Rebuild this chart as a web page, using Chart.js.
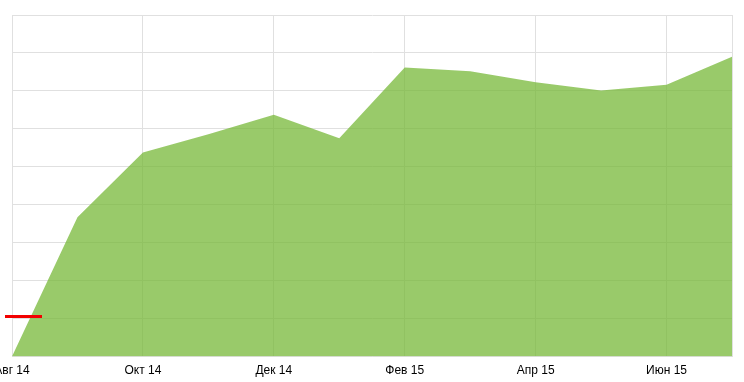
<!DOCTYPE html>
<html>
<head>
<meta charset="utf-8">
<script src="https://cdn.jsdelivr.net/npm/chart.js@4/dist/chart.umd.min.js"></script>
<style>
html,body{margin:0;padding:0;background:#fff;overflow:hidden}
canvas{display:block}
</style>
</head>
<body>
<canvas id="c" width="744" height="382"></canvas>
<script>
const months = ['Авг 14','Сен 14','Окт 14','Ноя 14','Дек 14','Янв 15','Фев 15','Мар 15','Апр 15','Май 15','Июн 15','Июл 15'];
const tickLabels = ['Авг 14','','Окт 14','','Дек 14','','Фев 15','','Апр 15','','Июн 15',''];
const values = [0, 3.67, 5.38, 5.86, 6.37, 5.75, 7.62, 7.52, 7.23, 7.01, 7.16, 7.90];
const markerValue = 1.08;

const markerPlugin = {
  id: 'marker',
  afterDatasetsDraw(chart) {
    const ctx = chart.ctx;
    const x = chart.scales.x, y = chart.scales.y;
    const py = Math.round(y.getPixelForValue(markerValue)) + 0.5;
    const x0 = x.getPixelForValue(0);
    ctx.save();
    ctx.strokeStyle = '#f20000';
    ctx.lineWidth = 3;
    ctx.beginPath();
    ctx.moveTo(x0 - 7, py);
    ctx.lineTo(x0 + 30, py);
    ctx.stroke();
    ctx.restore();
  }
};

new Chart(document.getElementById('c'), {
  type: 'line',
  data: {
    labels: months,
    datasets: [{
      data: values,
      fill: 'origin',
      backgroundColor: 'rgba(119,184,56,0.75)',
      borderWidth: 0,
      borderColor: 'rgba(0,0,0,0)',
      pointRadius: 0,
      tension: 0
    }]
  },
  options: {
    responsive: false,
    animation: false,
    events: [],
    layout: { autoPadding: false, padding: { left: 12, right: 12, top: 15, bottom: -3 } },
    plugins: { legend: { display: false }, tooltip: { enabled: false } },
    scales: {
      x: {
        offset: false,
        afterFit: (s) => { s.paddingLeft = 0; s.paddingRight = 0; },
        grid: {
          drawTicks: false,
          color: (c) => (c.index % 2 === 0 || c.index === months.length - 1) ? '#e0e0e0' : 'rgba(0,0,0,0)',
          lineWidth: 1
        },
        border: { display: true, color: '#e0e0e0' },
        ticks: {
          autoSkip: false,
          maxRotation: 0,
          padding: 7,
          color: '#000',
          font: { family: 'Liberation Sans, Arial, sans-serif', size: 12 },
          callback: (v, i) => tickLabels[i]
        }
      },
      y: {
        min: 0,
        max: 9,
        afterFit: (s) => { s.width = 0; },
        ticks: { display: false, stepSize: 1 },
        grid: { drawTicks: false, color: '#e0e0e0' },
        border: { display: true, color: '#e0e0e0' }
      }
    }
  },
  plugins: [markerPlugin]
});
</script>
</body>
</html>
